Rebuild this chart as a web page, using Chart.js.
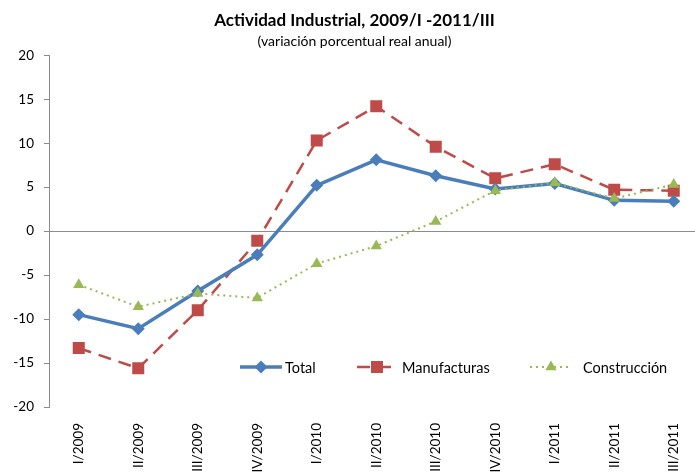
<!DOCTYPE html>
<html>
<head>
<meta charset="utf-8">
<script src="https://cdn.jsdelivr.net/npm/chart.js@4"></script>
<style>
  body { margin: 0; overflow: hidden; background: #fff; }
  #wrap { width: 712px; height: 475px; }
</style>
</head>
<body>
<div id="wrap"><canvas id="myChart" width="712" height="475"></canvas></div>
<script>
// data
const quarters = ["I/2009", "II/2009", "III/2009", "IV/2009", "I/2010", "II/2010", "III/2010", "IV/2010", "I/2011", "II/2011", "III/2011"];
const total = [-9.5, -11.1, -6.8, -2.7, 5.2, 8.1, 6.3, 4.8, 5.4, 3.5, 3.4];
const manufacturas = [-13.3, -15.6, -9.0, -1.1, 10.3, 14.2, 9.6, 6.0, 7.6, 4.7, 4.6];
const construccion = [-6.1, -8.6, -7.1, -7.6, -3.7, -1.7, 1.1, 4.6, 5.5, 3.7, 5.3];
const yTicks = [-20, -15, -10, -5, 0, 5, 10, 15, 20];

const fontFamily = "Lato, 'Open Sans', sans-serif";

//legend drawn inside the plot area, like the original
const innerLegend = {
  id: "innerLegend",
  afterDatasetsDraw(chart) {
    const ctx = chart.ctx;
    const y = 367;
    const items = [
      { ds: 0, x: 240, w: 42, tx: 285 },
      { ds: 1, x: 357, w: 40, tx: 402 },
      { ds: 2, x: 530, w: 42, tx: 583 },
    ];
    ctx.save();
    items.forEach((it) => {
      const ds = chart.data.datasets[it.ds];
      ctx.strokeStyle = ds.borderColor;
      ctx.lineWidth = ds.borderWidth;
      ctx.setLineDash(ds.borderDash || []);
      ctx.beginPath();
      ctx.moveTo(it.x, y);
      ctx.lineTo(it.x + it.w, y);
      ctx.stroke();
      ctx.setLineDash([]);
      ctx.fillStyle = ds.pointBackgroundColor;
      Chart.helpers.drawPoint(ctx, { pointStyle: ds.pointStyle, radius: ds.pointRadius, borderWidth: 0 }, it.x + it.w / 2, y);
      ctx.fillStyle = "#000";
      ctx.font = "14.5px " + fontFamily;
      ctx.textBaseline = "middle";
      ctx.fillText(ds.label, it.tx, y + 1);
    });
    ctx.restore();
  },
};

const ctx = document.getElementById("myChart").getContext("2d");

const chart = new Chart(ctx, {
  type: "line",
  data: {
    labels: quarters,
    datasets: [
      {
        label: "Total",
        data: total,
        borderColor: "#4A7EBB",
        backgroundColor: "#4A7EBB",
        pointBackgroundColor: "#4A7EBB",
        borderWidth: 3.5,
        pointStyle: "rectRot",
        pointRadius: 6.5,
        pointBorderWidth: 0,
        order: 1,
      },
      {
        label: "Manufacturas",
        data: manufacturas,
        borderColor: "#BE4B48",
        backgroundColor: "#BE4B48",
        pointBackgroundColor: "#BE4B48",
        borderWidth: 2.5,
        borderDash: [13, 8],
        pointStyle: "rect",
        pointRadius: 8.5,
        pointBorderWidth: 0,
        order: 2,
      },
      {
        label: "Construcción",
        data: construccion,
        borderColor: "#98B954",
        backgroundColor: "#98B954",
        pointBackgroundColor: "#98B954",
        borderWidth: 2,
        borderDash: [2, 4],
        pointStyle: "triangle",
        pointRadius: 6.5,
        pointBorderWidth: 0,
        order: 0,
      },
    ],
  },
  options: {
    responsive: false,
    animation: false,
    layout: { padding: { left: 0, right: 3, top: 0, bottom: 0 } },
    plugins: {
      legend: { display: false },
      tooltip: { enabled: false },
      title: {
        display: true,
        text: "Actividad Industrial, 2009/I -2011/III",
        color: "#000",
        font: { family: fontFamily, size: 17, weight: "bold" },
        padding: { top: 10, bottom: 3 },
      },
      subtitle: {
        display: true,
        text: "(variación porcentual real anual)",
        color: "#000",
        font: { family: fontFamily, size: 14 },
        padding: { top: 0, bottom: 5 },
      },
    },
    scales: {
      x: {
        offset: true,
        grid: { display: false },
        border: { display: false },
        ticks: {
          color: "#000",
          font: { family: fontFamily, size: 13.5 },
          minRotation: 90,
          maxRotation: 90,
          padding: 8,
        },
        afterFit: (scale) => { scale.height = 68; },
      },
      y: {
        min: -20,
        max: 20,
        afterBuildTicks: (scale) => { scale.ticks = yTicks.map((v) => ({ value: v })); },
        border: { display: true, color: "#8c8c8c", width: 1 },
        grid: {
          drawOnChartArea: true,
          color: (c) => (c.tick && c.tick.value === 0 ? "#8c8c8c" : "rgba(0,0,0,0)"),
          tickColor: "#8c8c8c",
          tickLength: 5,
          lineWidth: 1,
        },
        ticks: {
          color: "#000",
          font: { family: fontFamily, size: 13.5 },
          padding: 10,
        },
        afterFit: (scale) => { scale.width = 49; },
      },
    },
  },
  plugins: [innerLegend],
});
</script>
</body>
</html>
